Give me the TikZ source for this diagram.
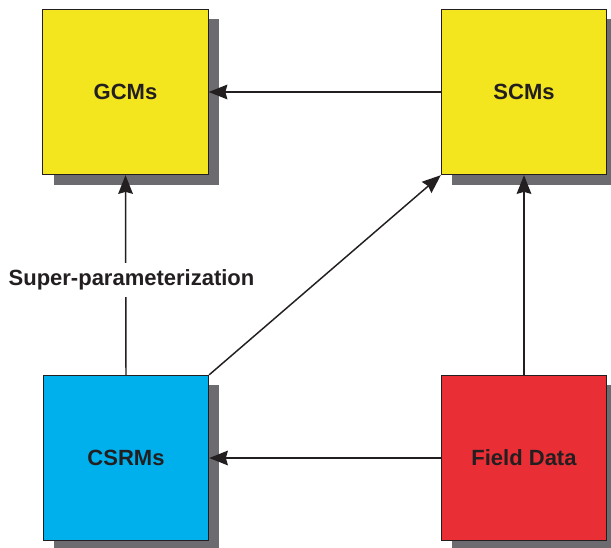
\documentclass[tikz,border=0pt]{standalone}
\usepackage{fontspec}
\setmainfont{Liberation Sans}
\usetikzlibrary{shadows,arrows.meta}

\definecolor{boxyellow}{RGB}{243,229,30}
\definecolor{boxblue}{RGB}{0,176,236}
\definecolor{boxred}{RGB}{233,46,54}
\definecolor{shadowgray}{RGB}{108,108,112}
\definecolor{inkdark}{RGB}{35,31,32}

\begin{document}
\begin{tikzpicture}[x=0.75pt,y=-0.75pt,
  model/.style={draw=inkdark, line width=0.8pt, minimum width=124pt, minimum height=124pt,
    inner sep=0pt, font=\fontsize{16.5}{20}\selectfont\bfseries, text=inkdark,
    drop shadow={shadow xshift=8pt, shadow yshift=-7.5pt, fill=shadowgray, opacity=1}},
  link/.style={draw=inkdark, line width=1.1pt,
    -{Stealth[length=14pt,width=11pt,inset=1.5pt]}}]
  \useasboundingbox (0,0) rectangle (611,547);

  % the four model boxes
  \node[model, fill=boxyellow] (gcm)   at (125.5,92)  {GCMs};
  \node[model, fill=boxyellow] (scm)   at (524,92)    {SCMs};
  \node[model, fill=boxblue]   (csrm)  at (126,458)   {CSRMs};
  \node[model, fill=boxred]    (field) at (524,458)   {Field Data};

  % connectors
  \draw[link] (scm.west) -- (gcm.east);
  \draw[link] (csrm.north) -- (gcm.south);
  \draw[link] (csrm.north east) -- (scm.south west);
  \draw[link] (field.north) -- (scm.south);
  \draw[link] (field.west) -- (csrm.east);

  % label breaking the vertical connector
  \node[fill=white, inner xsep=1pt, inner ysep=5pt, text=inkdark,
        font=\fontsize{16.5}{20}\selectfont\bfseries] (sp) at (131.5,280) {Super-parameterization};
\end{tikzpicture}
\end{document}
